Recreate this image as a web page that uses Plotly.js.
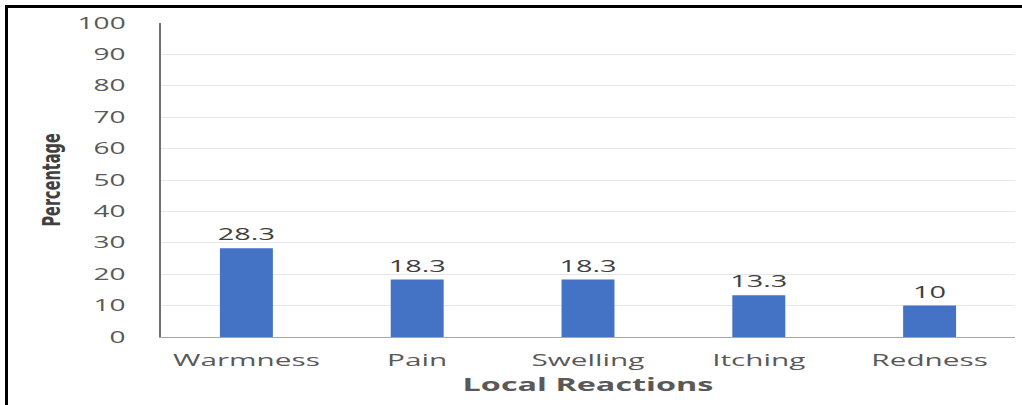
<!DOCTYPE html>
<html>
<head>
<meta charset="utf-8">
<script src="https://cdn.plot.ly/plotly-3.0.1.min.js"></script>
<style>
  html, body { margin: 0; padding: 0; background: #fff; overflow: hidden; }
  #wrap { position: relative; width: 1022px; height: 405px; overflow: hidden; background: #fff; }
  #chart { position: absolute; left: 0; top: 0; width: 584px; height: 405px; transform: scaleX(1.75); transform-origin: 0 0; }
  #frame { position: absolute; left: 5px; top: 5px; right: -10px; bottom: -10px; border-left: 3px solid #000; border-top: 3px solid #000; pointer-events: none; }
</style>
</head>
<body>
<div id="wrap">
  <div id="chart"></div>
  <div id="frame"></div>
</div>
<script>
const categories = ["Warmness", "Pain", "Swelling", "Itching", "Redness"];
const percentages = [28.3, 18.3, 18.3, 13.3, 10];
const yTickValues = [0, 10, 20, 30, 40, 50, 60, 70, 80, 90, 100];
const xAxisTitle = "Local Reactions";
const yAxisTitle = "Percentage";

const trace = {
  type: "bar",
  x: categories,
  y: percentages,
  marker: { color: "#4472C4" },
  texttemplate: "%{y}",
  textposition: "outside",
  constraintext: "none",
  cliponaxis: false,
  textfont: { family: "Open Sans", size: 16.5, color: "#404040" },
  hoverinfo: "skip"
};

const layout = {
  width: 584,
  height: 405,
  margin: { l: 92, r: 4, t: 22.5, b: 68, pad: 0 },
  paper_bgcolor: "#ffffff",
  plot_bgcolor: "#ffffff",
  showlegend: false,
  bargap: 0.69,
  xaxis: {
    type: "category",
    showline: true,
    linecolor: "#A6A6A6",
    linewidth: 1,
    showgrid: false,
    ticks: "",
    ticklabelstandoff: 8,
    tickfont: { family: "Open Sans", size: 17, color: "#595959" },
    title: {
      text: xAxisTitle,
      standoff: 6,
      font: { family: "Open Sans", size: 18.5, color: "#595959", weight: "bold" }
    },
    automargin: false,
    fixedrange: true
  },
  yaxis: {
    range: [0, 100],
    tickvals: yTickValues,
    showline: true,
    linecolor: "#6F6F6F",
    linewidth: 1,
    showgrid: true,
    gridcolor: "#E6E6E6",
    gridwidth: 1,
    zeroline: false,
    ticks: "",
    ticklabelstandoff: 16,
    tickfont: { family: "Open Sans", size: 16, color: "#595959" },
    title: { text: "" },
    automargin: false,
    fixedrange: true
  },
  annotations: [{
    text: yAxisTitle,
    xref: "paper", yref: "paper",
    x: -0.128, y: 0.5,
    xanchor: "center", yanchor: "middle",
    textangle: -90,
    showarrow: false,
    font: { family: "DejaVu Sans", size: 14.5, color: "#404040", weight: "bold" }
  }]
};

Plotly.newPlot("chart", [trace], layout, { staticPlot: true, displayModeBar: false });
</script>
</body>
</html>
